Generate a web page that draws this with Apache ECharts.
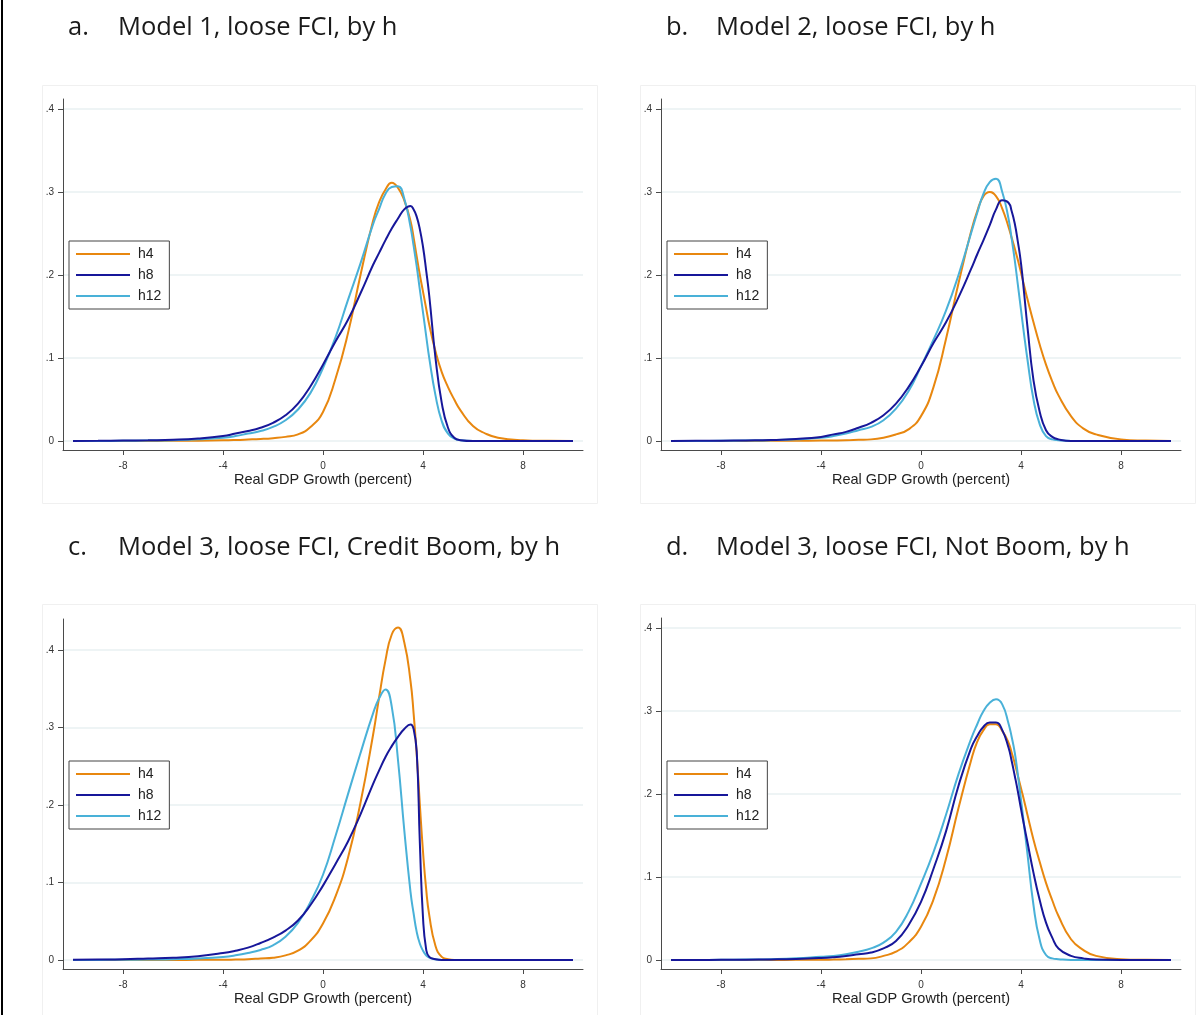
<!DOCTYPE html>
<html>
<head>
<meta charset="utf-8">
<script src="https://cdn.jsdelivr.net/npm/echarts@6/dist/echarts.min.js"></script>
<style>
  html, body { margin: 0; padding: 0; background: #fff; }
  #chart { width: 1201px; height: 1015px; }
</style>
</head>
<body>
<div id="chart"></div>
<script>
// Shared grid of growth values (percent) at which each density is read
const growth = [-10, -9, -8, -7, -6, -5, -4, -3.5, -3, -2.5, -2, -1.5, -1, -0.5, 0, 0.5, 1, 1.5, 2, 2.25,
  2.5, 2.75, 3, 3.25, 3.5, 3.625, 3.75, 3.875, 4, 4.125, 4.25, 4.5, 4.75, 5, 5.25, 5.5, 6, 6.5, 7, 8, 9, 10];

// Panel a: Model 1, loose FCI
const m1_h4 = [0, 0, 0, 0.0001, 0.0002, 0.0004, 0.0008, 0.0012, 0.0018, 0.0025, 0.0035, 0.005, 0.008, 0.017, 0.035, 0.075, 0.13, 0.2, 0.265, 0.288,
  0.303, 0.311, 0.305, 0.29, 0.265, 0.245, 0.222, 0.2, 0.18, 0.16, 0.14, 0.108, 0.083, 0.065, 0.05, 0.037, 0.018, 0.009, 0.004, 0.001, 0.0002, 0];
const m1_h8 = [0, 0.0002, 0.0005, 0.0009, 0.0015, 0.003, 0.006, 0.009, 0.012, 0.016, 0.022, 0.031, 0.045, 0.066, 0.092, 0.12, 0.146, 0.178, 0.212, 0.227,
  0.242, 0.256, 0.268, 0.279, 0.283, 0.279, 0.27, 0.255, 0.234, 0.206, 0.175, 0.1, 0.046, 0.016, 0.004, 0.001, 0, 0, 0, 0, 0, 0];
const m1_h12 = [0, 0.0001, 0.0003, 0.0006, 0.001, 0.002, 0.004, 0.006, 0.009, 0.012, 0.017, 0.025, 0.038, 0.058, 0.088, 0.125, 0.17, 0.214, 0.261, 0.28,
  0.298, 0.306, 0.307, 0.292, 0.258, 0.235, 0.21, 0.182, 0.155, 0.127, 0.1, 0.055, 0.024, 0.009, 0.003, 0.001, 0, 0, 0, 0, 0, 0];

// Panel b: Model 2, loose FCI
const m2_h4 = [0, 0, 0, 0.0001, 0.0002, 0.0003, 0.0005, 0.0007, 0.001, 0.0015, 0.002, 0.004, 0.008, 0.014, 0.03, 0.065, 0.123, 0.19, 0.252, 0.277,
  0.295, 0.3, 0.295, 0.28, 0.258, 0.245, 0.232, 0.218, 0.203, 0.187, 0.172, 0.143, 0.116, 0.092, 0.072, 0.055, 0.03, 0.015, 0.008, 0.002, 0.0005, 0];
const m2_h8 = [0, 0.0002, 0.0004, 0.0007, 0.0012, 0.0025, 0.005, 0.008, 0.011, 0.016, 0.022, 0.031, 0.045, 0.065, 0.09, 0.118, 0.143, 0.173, 0.207, 0.225,
  0.242, 0.26, 0.279, 0.29, 0.287, 0.277, 0.262, 0.24, 0.214, 0.178, 0.14, 0.073, 0.035, 0.013, 0.005, 0.002, 0, 0, 0, 0, 0, 0];
const m2_h12 = [0, 0.0001, 0.0003, 0.0006, 0.001, 0.002, 0.004, 0.006, 0.009, 0.013, 0.017, 0.025, 0.039, 0.06, 0.09, 0.122, 0.157, 0.2, 0.25, 0.275,
  0.298, 0.312, 0.316, 0.3, 0.268, 0.244, 0.218, 0.188, 0.158, 0.128, 0.1, 0.05, 0.02, 0.006, 0.002, 0.001, 0, 0, 0, 0, 0, 0];

// Panel c: Model 3, loose FCI, credit boom
const m3b_h4 = [0, 0, 0, 0, 0.0001, 0.0002, 0.0003, 0.0006, 0.001, 0.002, 0.003, 0.006, 0.012, 0.025, 0.047, 0.082, 0.132, 0.203, 0.29, 0.34,
  0.387, 0.42, 0.429, 0.41, 0.36, 0.318, 0.265, 0.2, 0.14, 0.092, 0.058, 0.018, 0.004, 0.001, 0, 0, 0, 0, 0, 0, 0, 0];
const m3b_h8 = [0.0003, 0.0006, 0.001, 0.002, 0.003, 0.005, 0.009, 0.012, 0.016, 0.022, 0.029, 0.038, 0.051, 0.071, 0.096, 0.124, 0.153, 0.188, 0.227, 0.245,
  0.262, 0.276, 0.288, 0.298, 0.304, 0.298, 0.268, 0.15, 0.055, 0.014, 0.004, 0.001, 0, 0, 0, 0, 0, 0, 0, 0, 0, 0];
const m3b_h12 = [0, 0.0001, 0.0003, 0.0006, 0.001, 0.002, 0.004, 0.006, 0.009, 0.013, 0.019, 0.03, 0.048, 0.075, 0.11, 0.16, 0.214, 0.267, 0.318, 0.338,
  0.349, 0.327, 0.258, 0.168, 0.088, 0.06, 0.036, 0.021, 0.012, 0.006, 0.003, 0.001, 0, 0, 0, 0, 0, 0, 0, 0, 0, 0];

// Panel d: Model 3, loose FCI, not boom
const m3n_h4 = [0, 0, 0, 0, 0.0001, 0.0002, 0.0003, 0.0006, 0.001, 0.0015, 0.002, 0.005, 0.01, 0.021, 0.04, 0.073, 0.122, 0.183, 0.24, 0.263,
  0.277, 0.284, 0.284, 0.276, 0.262, 0.25, 0.237, 0.222, 0.207, 0.192, 0.176, 0.145, 0.118, 0.093, 0.072, 0.053, 0.025, 0.012, 0.005, 0.001, 0.0002, 0];
const m3n_h8 = [0, 0.0001, 0.0002, 0.0004, 0.0007, 0.0013, 0.0025, 0.0035, 0.005, 0.007, 0.009, 0.014, 0.023, 0.042, 0.07, 0.11, 0.155, 0.21, 0.255, 0.27,
  0.281, 0.286, 0.286, 0.277, 0.256, 0.24, 0.222, 0.203, 0.182, 0.162, 0.143, 0.105, 0.072, 0.045, 0.027, 0.014, 0.005, 0.002, 0.0005, 0, 0, 0];
const m3n_h12 = [0, 0.0001, 0.0003, 0.0006, 0.001, 0.002, 0.004, 0.005, 0.007, 0.01, 0.014, 0.021, 0.034, 0.058, 0.092, 0.13, 0.175, 0.224, 0.266, 0.284,
  0.3, 0.31, 0.314, 0.308, 0.285, 0.269, 0.25, 0.223, 0.193, 0.162, 0.13, 0.066, 0.024, 0.006, 0.002, 0.001, 0, 0, 0, 0, 0, 0];

const horizons = ['h4', 'h8', 'h12'];
const horizonColors = ['#E8870F', '#17179A', '#49B1D8'];
const xTicks = [-8, -4, 0, 4, 8];
const yTicks = [0, 0.1, 0.2, 0.3, 0.4];
const xTitle = 'Real GDP Growth (percent)';

const panels = [
  { letter: 'a.', title: 'Model 1, loose FCI, by h', series: [m1_h4, m1_h8, m1_h12],
    left: 63, top: 99, bottom: 450, yMin: -0.0108, yMax: 0.412, box: [42, 85, 555, 418] },
  { letter: 'b.', title: 'Model 2, loose FCI, by h', series: [m2_h4, m2_h8, m2_h12],
    left: 661, top: 99, bottom: 450, yMin: -0.0108, yMax: 0.412, box: [640, 85, 555, 418] },
  { letter: 'c.', title: 'Model 3, loose FCI, Credit Boom, by h', series: [m3b_h4, m3b_h8, m3b_h12],
    left: 63, top: 619, bottom: 969, yMin: -0.0116, yMax: 0.44, box: [42, 604, 555, 430] },
  { letter: 'd.', title: 'Model 3, loose FCI, Not Boom, by h', series: [m3n_h4, m3n_h8, m3n_h12],
    left: 661, top: 618, bottom: 969, yMin: -0.0108, yMax: 0.412, box: [640, 604, 555, 430] }
];

const axisColor = '#4a4a4a';
const labelFont = { fontFamily: 'Liberation Sans, Arial, sans-serif', fontSize: 10, color: '#333' };
const titleFont = { fontFamily: 'Open Sans, Noto Sans, sans-serif', fontSize: 25.5, fontWeight: 'normal', color: '#1a1a1a' };

const grids = [], xAxes = [], yAxes = [], series = [], legends = [], titles = [], graphics = [];

// thin page rule on the left edge
graphics.push({ type: 'rect', shape: { x: 1, y: 0, width: 2, height: 1015 }, style: { fill: '#000' }, silent: true });

panels.forEach((p, k) => {
  grids.push({ left: p.left, top: p.top, width: 520, height: p.bottom - p.top, containLabel: false });

  // faint frame round each graph region
  graphics.push({ type: 'rect', z: -1,
    shape: { x: p.box[0] + 0.5, y: p.box[1] + 0.5, width: p.box[2], height: p.box[3] },
    style: { fill: 'none', stroke: '#f0f0f0', lineWidth: 1 }, silent: true });

  const titleY = k < 2 ? 15 : 535;
  titles.push({ text: p.letter, left: p.left + 5, top: titleY, padding: 0, textStyle: titleFont });
  titles.push({ text: p.title, left: p.left + 55, top: titleY, padding: 0, textStyle: titleFont });

  xAxes.push({
    gridIndex: k, type: 'value', min: -10.4, max: 10.4,
    name: xTitle, nameLocation: 'middle', nameGap: 22,
    nameTextStyle: { fontFamily: 'Liberation Sans, Arial, sans-serif', fontSize: 14.5, color: '#222' },
    axisLine: { show: true, onZero: false, lineStyle: { color: axisColor, width: 1 } },
    axisTick: { show: true, length: 5, customValues: xTicks, lineStyle: { color: axisColor } },
    axisLabel: Object.assign({ margin: 11, customValues: xTicks, formatter: v => String(v) }, labelFont),
    splitLine: { show: false }
  });

  yAxes.push({
    gridIndex: k, type: 'value', min: p.yMin, max: p.yMax,
    axisLine: { show: true, onZero: false, lineStyle: { color: axisColor, width: 1 } },
    axisTick: { show: true, length: 5, customValues: yTicks, lineStyle: { color: axisColor } },
    axisLabel: Object.assign({ margin: 9, customValues: yTicks,
      formatter: v => (Math.abs(v) < 1e-9 ? '0' : '.' + Math.round(v * 10)) }, labelFont),
    splitLine: { show: true, lineStyle: { color: '#e9f0f2', width: 1.5 } }
  });

  p.series.forEach((vals, j) => {
    series.push({
      name: horizons[j], type: 'line', xAxisIndex: k, yAxisIndex: k,
      data: growth.map((g, i) => [g, vals[i]]),
      symbol: 'none', smooth: 0.5,
      lineStyle: { color: horizonColors[j], width: 2 },
      itemStyle: { color: horizonColors[j] },
      z: 3 + (j === 0 ? 0 : j === 1 ? 2 : 1)
    });
  });

  legends.push({
    orient: 'vertical', left: p.left + 6, top: (k < 2 ? 241 : 761),
    data: horizons, selectedMode: false,
    itemWidth: 54, itemHeight: 14, itemGap: 7,
    padding: [6, 8, 6, 6],
    borderColor: '#444', borderWidth: 1, borderRadius: 0, backgroundColor: '#fff',
    textStyle: { fontFamily: 'Liberation Sans, Arial, sans-serif', fontSize: 14, color: '#222', padding: [0, 0, 0, 3] },
    itemStyle: { opacity: 0 }
  });
});

const chart = echarts.init(document.getElementById('chart'), null, { renderer: 'canvas' });
chart.setOption({
  animation: false,
  backgroundColor: '#fff',
  title: titles,
  grid: grids,
  xAxis: xAxes,
  yAxis: yAxes,
  legend: legends,
  series: series,
  graphic: graphics
});
</script>
</body>
</html>
